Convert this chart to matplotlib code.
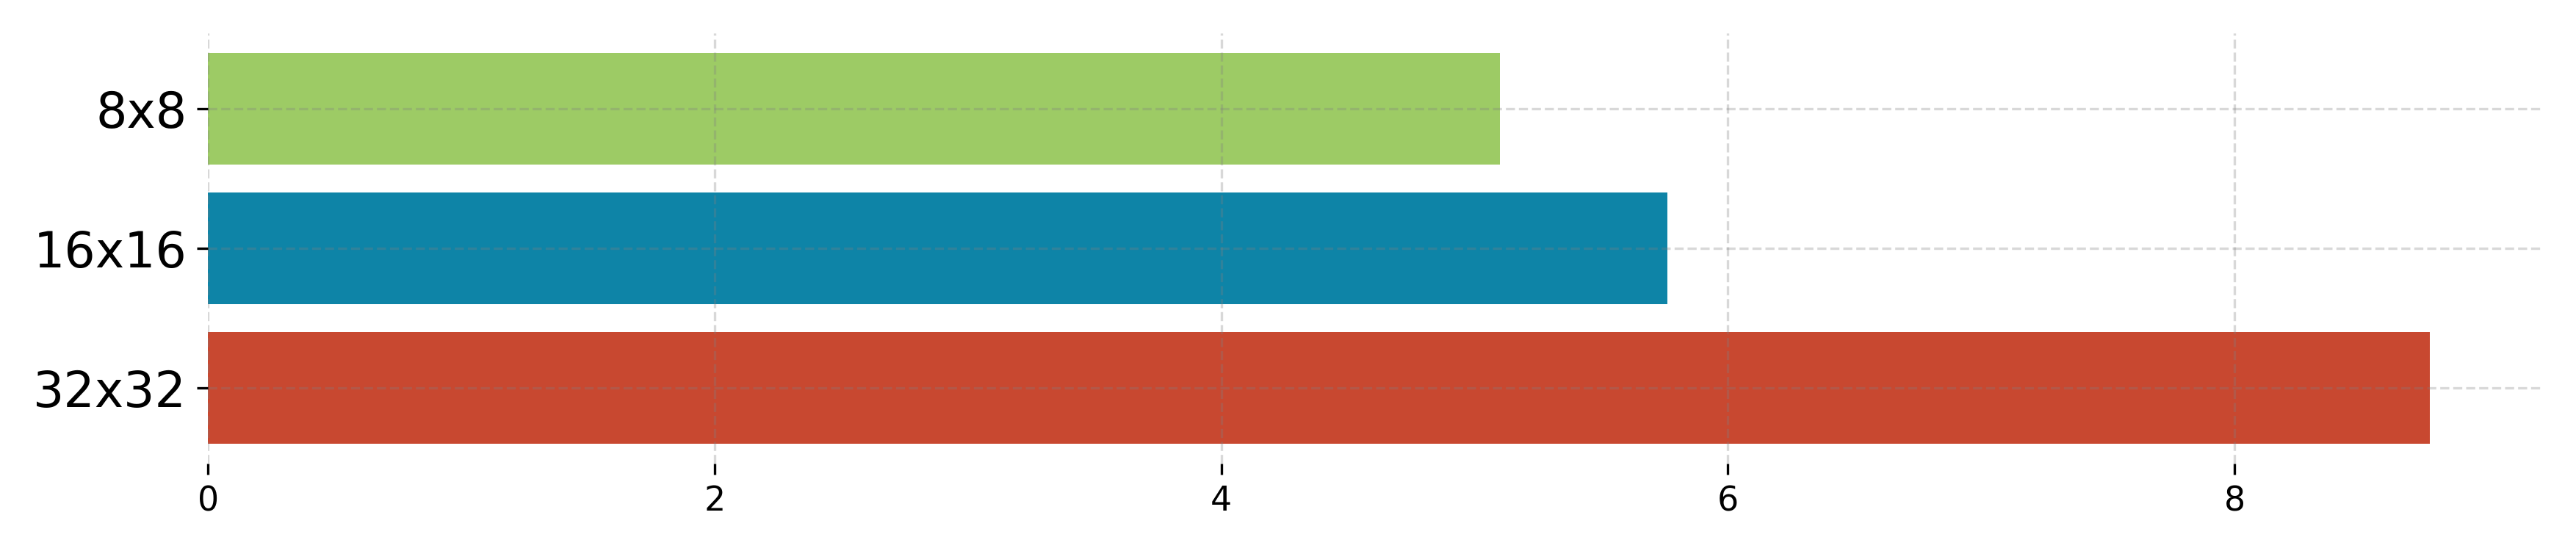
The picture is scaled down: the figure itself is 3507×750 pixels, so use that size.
import matplotlib
matplotlib.use('Agg')
import matplotlib.pyplot as plt

# Daten
kategorien = ['32x32', '16x16', '8x8']
werte = [8.77, 5.76, 5.10]
farben = ['#c84830', '#0e84a7', '#9dcb65']

fig = plt.figure(figsize=(11.69, 2.5), dpi=300)
ax = fig.add_axes([0.0808, 0.1587, 0.9055, 0.7813])

ax.barh(kategorien, werte, color=farben, height=0.8)

# Achsen
ax.tick_params(axis='y', labelsize=16)
ax.tick_params(axis='x', labelsize=11)
for spine in ax.spines.values():
    spine.set_visible(False)

# Grid
ax.grid(True, linestyle='--', linewidth=0.8, color='gray', alpha=0.3)

fig.savefig('out.png', dpi=300)
plt.close(fig)
